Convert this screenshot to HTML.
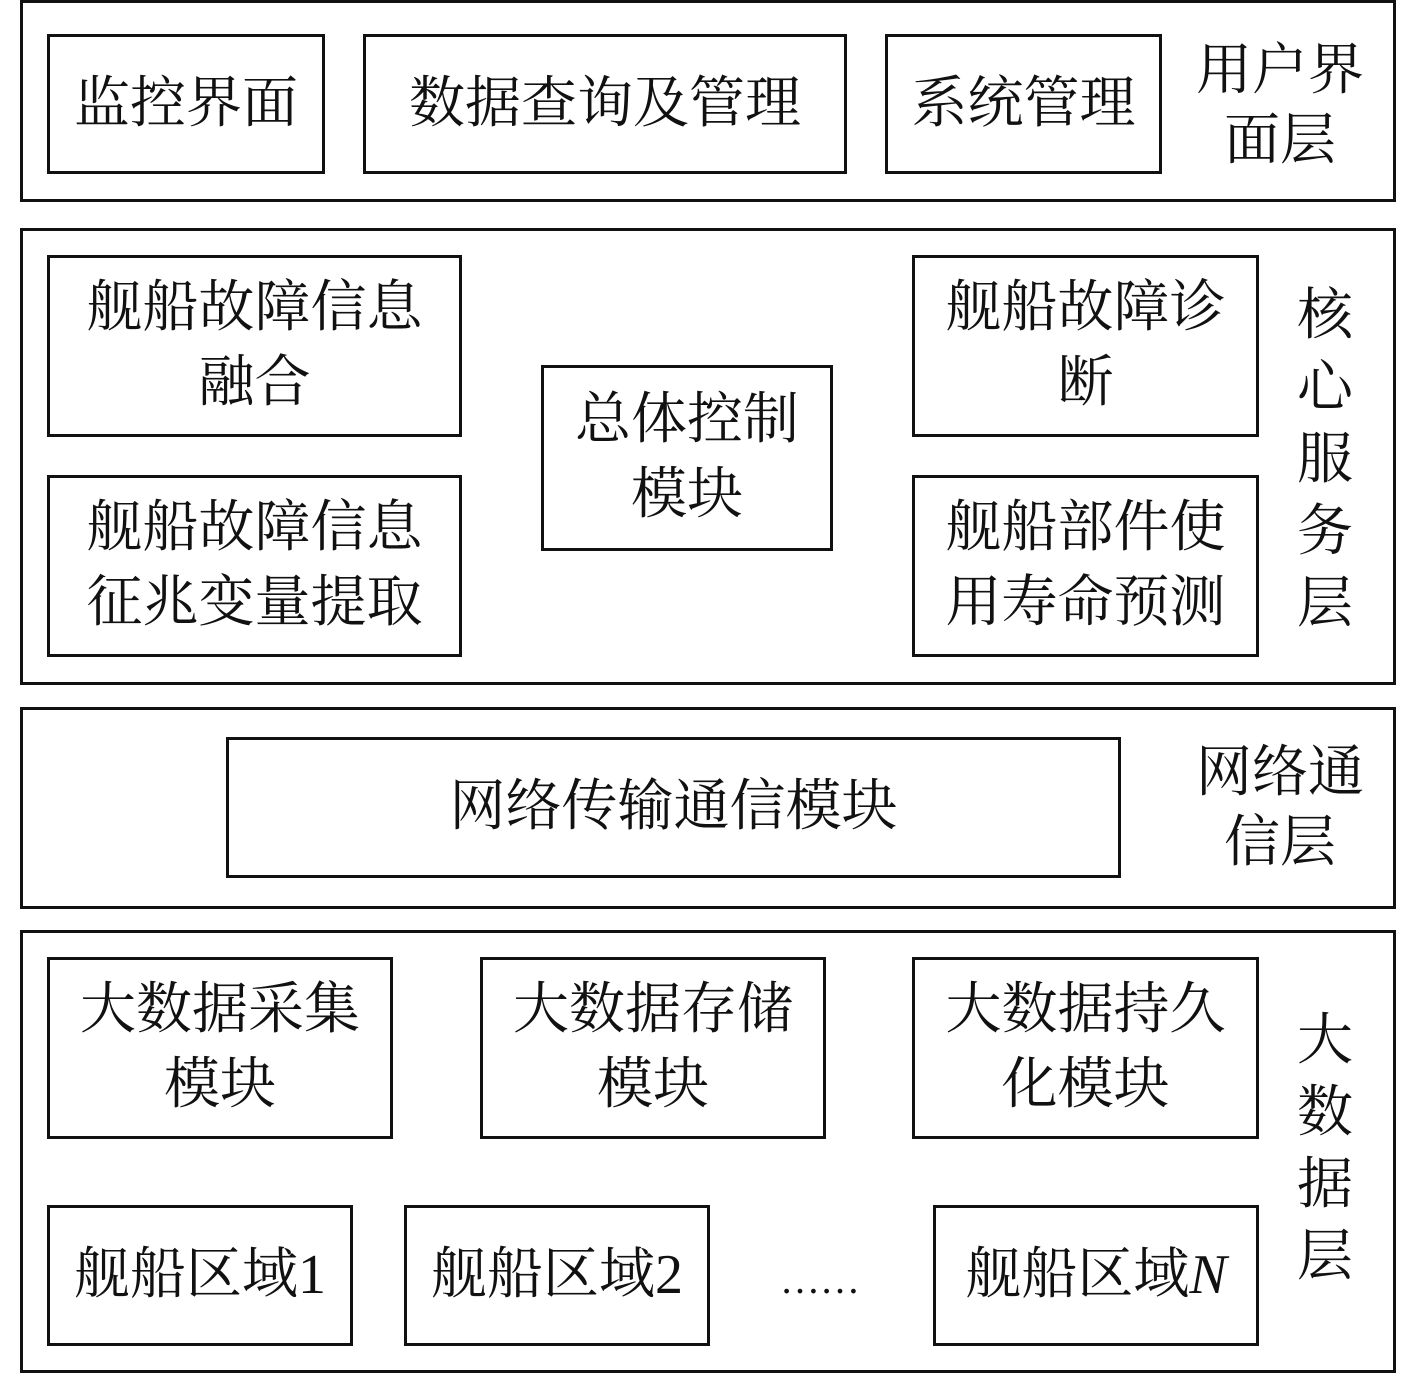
<!DOCTYPE html>
<html><head><meta charset="utf-8"><style>
body{margin:0;width:1417px;height:1374px;background:#fff;position:relative;overflow:hidden;
font-family:"Liberation Serif","Noto Serif CJK SC",serif;color:#111;}
.b{position:absolute;border:3px solid #111;box-sizing:border-box;display:flex;align-items:center;justify-content:center;text-align:center;font-size:56px;line-height:75px;}
.o{position:absolute;border:3px solid #111;box-sizing:border-box;}
.l{position:absolute;font-size:56px;line-height:70px;text-align:center;}
</style></head><body>
<div class="o" style="left:20px;top:0;width:1376px;height:202px"></div>
<div class="b" style="left:47px;top:34px;width:278px;height:140px">监控界面</div>
<div class="b" style="left:363px;top:34px;width:484px;height:140px">数据查询及管理</div>
<div class="b" style="left:885px;top:34px;width:277px;height:140px">系统管理</div>
<div class="l" style="left:1180px;top:36px;width:200px">用户界<br>面层</div>

<div class="o" style="left:20px;top:228px;width:1376px;height:457px"></div>
<div class="b" style="left:47px;top:255px;width:415px;height:182px">舰船故障信息<br>融合</div>
<div class="b" style="left:47px;top:475px;width:415px;height:182px">舰船故障信息<br>征兆变量提取</div>
<div class="b" style="left:541px;top:365px;width:292px;height:186px">总体控制<br>模块</div>
<div class="b" style="left:912px;top:255px;width:347px;height:182px">舰船故障诊<br>断</div>
<div class="b" style="left:912px;top:475px;width:347px;height:182px">舰船部件使<br>用寿命预测</div>
<div class="l" style="left:1295px;top:280px;width:60px;line-height:72px">核<br>心<br>服<br>务<br>层</div>

<div class="o" style="left:20px;top:707px;width:1376px;height:202px"></div>
<div class="b" style="left:226px;top:737px;width:895px;height:141px">网络传输通信模块</div>
<div class="l" style="left:1180px;top:738px;width:200px">网络通<br>信层</div>

<div class="o" style="left:20px;top:930px;width:1376px;height:443px"></div>
<div class="b" style="left:47px;top:957px;width:346px;height:182px">大数据采集<br>模块</div>
<div class="b" style="left:480px;top:957px;width:346px;height:182px">大数据存储<br>模块</div>
<div class="b" style="left:912px;top:957px;width:347px;height:182px">大数据持久<br>化模块</div>
<div class="b" style="left:47px;top:1205px;width:306px;height:141px">舰船区域1</div>
<div class="b" style="left:404px;top:1205px;width:306px;height:141px">舰船区域2</div>
<div class="b" style="left:933px;top:1205px;width:326px;height:141px">舰船区域<i>N</i></div>
<div class="l" style="left:750px;top:1245px;width:140px;font-size:40px">……</div>
<div class="l" style="left:1295px;top:1005px;width:60px;line-height:72px">大<br>数<br>据<br>层</div>
</body></html>
